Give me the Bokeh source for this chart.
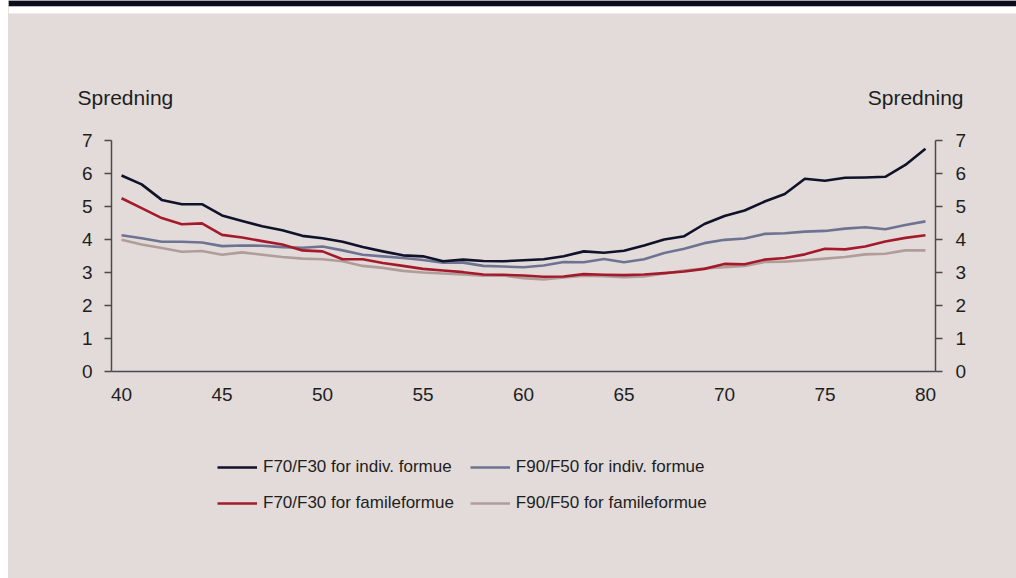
from bokeh.plotting import figure
from bokeh.models import (Legend, LegendItem, LinearAxis, FixedTicker, Label,
                          Spacer, BoxAnnotation)
from bokeh.layouts import column, row
from bokeh.embed import file_html
from bokeh.resources import INLINE

# ---- data ----
ages = list(range(40, 81))
f7030_indiv = [5.94, 5.67, 5.20, 5.07, 5.07, 4.73, 4.56, 4.40, 4.28, 4.11,
               4.04, 3.93, 3.77, 3.64, 3.52, 3.49, 3.34, 3.39, 3.35, 3.34,
               3.37, 3.40, 3.49, 3.64, 3.60, 3.66, 3.82, 4.00, 4.10, 4.47,
               4.71, 4.88, 5.15, 5.38, 5.84, 5.78, 5.87, 5.88, 5.90, 6.26, 6.75]
f9050_indiv = [4.13, 4.04, 3.93, 3.93, 3.91, 3.80, 3.82, 3.81, 3.77, 3.75,
               3.79, 3.67, 3.54, 3.49, 3.44, 3.38, 3.30, 3.30, 3.20, 3.18,
               3.16, 3.21, 3.32, 3.31, 3.41, 3.31, 3.40, 3.59, 3.72, 3.89,
               3.99, 4.03, 4.17, 4.19, 4.24, 4.26, 4.33, 4.37, 4.31, 4.44, 4.55]
f7030_fam = [5.25, 4.95, 4.65, 4.46, 4.49, 4.14, 4.06, 3.95, 3.85, 3.67,
             3.64, 3.40, 3.40, 3.29, 3.20, 3.11, 3.06, 3.01, 2.94, 2.93,
             2.91, 2.87, 2.88, 2.95, 2.93, 2.92, 2.94, 2.98, 3.03, 3.11,
             3.26, 3.25, 3.39, 3.44, 3.55, 3.72, 3.70, 3.79, 3.94, 4.05, 4.13]
f9050_fam = [3.99, 3.85, 3.74, 3.63, 3.65, 3.54, 3.61, 3.54, 3.47, 3.42,
             3.40, 3.34, 3.20, 3.14, 3.05, 3.00, 2.97, 2.94, 2.90, 2.91,
             2.83, 2.79, 2.85, 2.90, 2.89, 2.86, 2.88, 2.97, 3.06, 3.12,
             3.16, 3.20, 3.32, 3.33, 3.37, 3.42, 3.47, 3.55, 3.57, 3.67, 3.67]
series_names = ["F70/F30 for indiv. formue", "F90/F50 for indiv. formue",
                "F70/F30 for famileformue", "F90/F50 for famileformue"]
x_ticks = [40, 45, 50, 55, 60, 65, 70, 75, 80]
y_ticks = [0, 1, 2, 3, 4, 5, 6, 7]
axis_title = "Spredning"

# ---- style ----
PANEL = "#e2dbd9"
DARK = "#0b0d1e"
TXT = "#1e1e1e"
AXC = "#4a4a4a"
FONT = "Liberation Sans"
colors = ["#10122a", "#6e7391", "#a51a2b", "#b09d9a"]
W = 1008

def flat_fig(h, fill=PANEL):
    f = figure(width=W, height=h, x_range=(0, W), y_range=(0, h),
               output_backend="svg", toolbar_location=None,
               x_axis_location=None, y_axis_location=None, min_border=0,
               background_fill_color=fill, border_fill_color=fill,
               outline_line_color=None, frame_align=False)
    f.grid.visible = False
    return f

# header: dark strip, white gap, and the two axis titles
HEAD_H = 115
head = flat_fig(HEAD_H)
head.add_layout(BoxAnnotation(bottom=HEAD_H - 6, top=HEAD_H, fill_color=DARK,
                              fill_alpha=1, line_color=None))
head.add_layout(BoxAnnotation(bottom=HEAD_H - 13, top=HEAD_H - 6, fill_color="white",
                              fill_alpha=1, line_color=None))
head.add_layout(Label(x=69, y=18, text=axis_title, text_font=FONT,
                      text_font_size="21px", text_color=TXT,
                      text_align="left", text_baseline="alphabetic"))
head.add_layout(Label(x=955, y=18, text=axis_title, text_font=FONT,
                      text_font_size="21px", text_color=TXT,
                      text_align="right", text_baseline="alphabetic"))

# main chart
p = figure(width=W, height=310, x_range=(39.5, 80.5), y_range=(0, 7),
           output_backend="svg", toolbar_location=None,
           min_border_left=103, min_border_right=81,
           min_border_top=25, min_border_bottom=54,
           background_fill_color=PANEL, border_fill_color=PANEL,
           outline_line_color=None, frame_align=False)
p.grid.visible = False

for ys, c in zip([f9050_fam, f9050_indiv, f7030_fam, f7030_indiv],
                 [colors[3], colors[1], colors[2], colors[0]]):
    p.line(ages, ys, line_color=c, line_width=2.6, line_join="round")

def style_axis(ax, standoff):
    ax.axis_line_color = AXC
    ax.axis_line_width = 1.5
    ax.major_tick_line_color = AXC
    ax.major_tick_line_width = 1.5
    ax.minor_tick_line_color = None
    ax.major_label_text_font = FONT
    ax.major_label_text_color = TXT
    ax.major_label_standoff = standoff
    ax.major_label_text_font_size = "19px"

xa = p.xaxis[0]
xa.ticker = FixedTicker(ticks=x_ticks)
style_axis(xa, 16)
xa.major_tick_out = 0
xa.major_tick_in = 0

ya = p.yaxis[0]
ya.ticker = FixedTicker(ticks=y_ticks)
style_axis(ya, 12)
ya.major_tick_out = 7
ya.major_tick_in = 0

ra = LinearAxis(ticker=FixedTicker(ticks=y_ticks))
style_axis(ra, 13)
ra.major_tick_out = 7
ra.major_tick_in = 0
p.add_layout(ra, "right")

# legend area (legend swatches use empty proxy lines)
nan = float("nan")
leg = flat_fig(153)
proxies = [leg.line(x=[nan], y=[nan], line_color=c, line_width=2.6) for c in colors]
items = [LegendItem(label=n, renderers=[r]) for n, r in zip(series_names, proxies)]
legend = Legend(items=items, location=(209, 65), orientation="horizontal", ncols=2,
                glyph_width=40, glyph_height=20, label_height=20,
                label_standoff=6, spacing=16, padding=0, margin=0,
                border_line_color=None, background_fill_alpha=0,
                label_text_font=FONT, label_text_font_size="17px",
                label_text_color=TXT)
leg.add_layout(legend, "center")

layout = row(Spacer(width=8, height=578),
             column(head, p, leg, styles={"background-color": PANEL}))
open("out.html", "w").write(file_html(layout, INLINE))
